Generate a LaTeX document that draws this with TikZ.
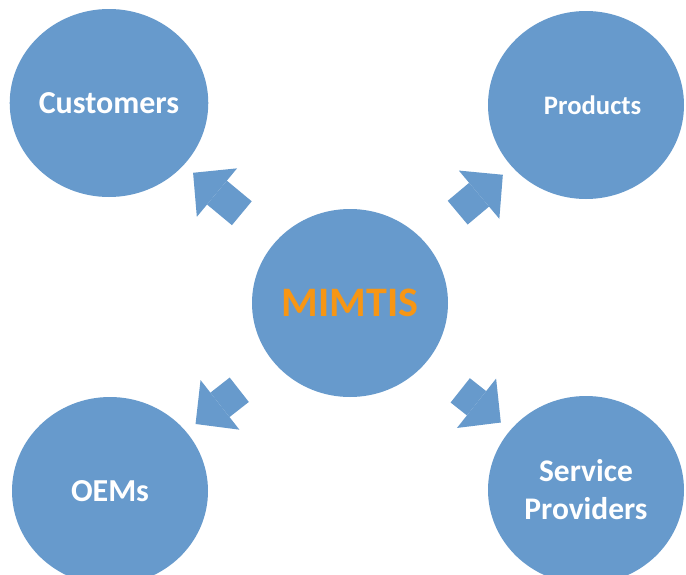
\documentclass[tikz,border=0pt]{standalone}
\usepackage{fontspec}
\setmainfont{Carlito}
\usepackage{xcolor}
\usepackage{tikz}
\usetikzlibrary{positioning,calc,arrows.meta,shapes.geometric}

\begin{document}
\begin{tikzpicture}[x=0.75pt,y=-0.75pt]
	\definecolor{hubblue}{RGB}{103,154,204}
	\definecolor{huborange}{RGB}{247,150,20}
	\tikzset{
		party/.style={
			ellipse, fill=hubblue, draw=none,
			minimum width=147pt, minimum height=141pt,
			inner sep=0pt, text=white, font=\bfseries, align=center
		},
		flow/.style={
			draw=hubblue, line width=23.25pt,
			-{Triangle[line width=0pt, length=23.25pt, width=47.25pt]},
			shorten <=33pt, shorten >=9pt
		}
	}

	\useasboundingbox[fill=white] (0,0) rectangle (686,575);

	% ======= centre =======
	\node[party, text=huborange, font=\bfseries\fontsize{31.5}{36}\selectfont] (mim) at (350,303) {MIMTIS};

	% ======= four parties =======
	\node[party, font=\bfseries\fontsize{24}{28}\selectfont] (cust) at (109,103) {Customers};
	\node[party, font=\bfseries\fontsize{20}{24}\selectfont] (prod) at (586,105) {\hspace*{10pt}Products};
	\node[party, font=\bfseries\fontsize{24}{28}\selectfont] (oem)  at (110,491) {OEMs};
	\node[party, font=\bfseries\fontsize{23.6}{28.5}\selectfont] (serv) at (586,490) {Service\\Providers};

	% ======= arrows out of the centre =======
	\draw[flow] (mim) -- (cust);
	\draw[flow] (mim) -- (prod);
	\draw[flow] (mim) -- (oem);
	\draw[flow] (mim) -- (serv);

\end{tikzpicture}
\end{document}
